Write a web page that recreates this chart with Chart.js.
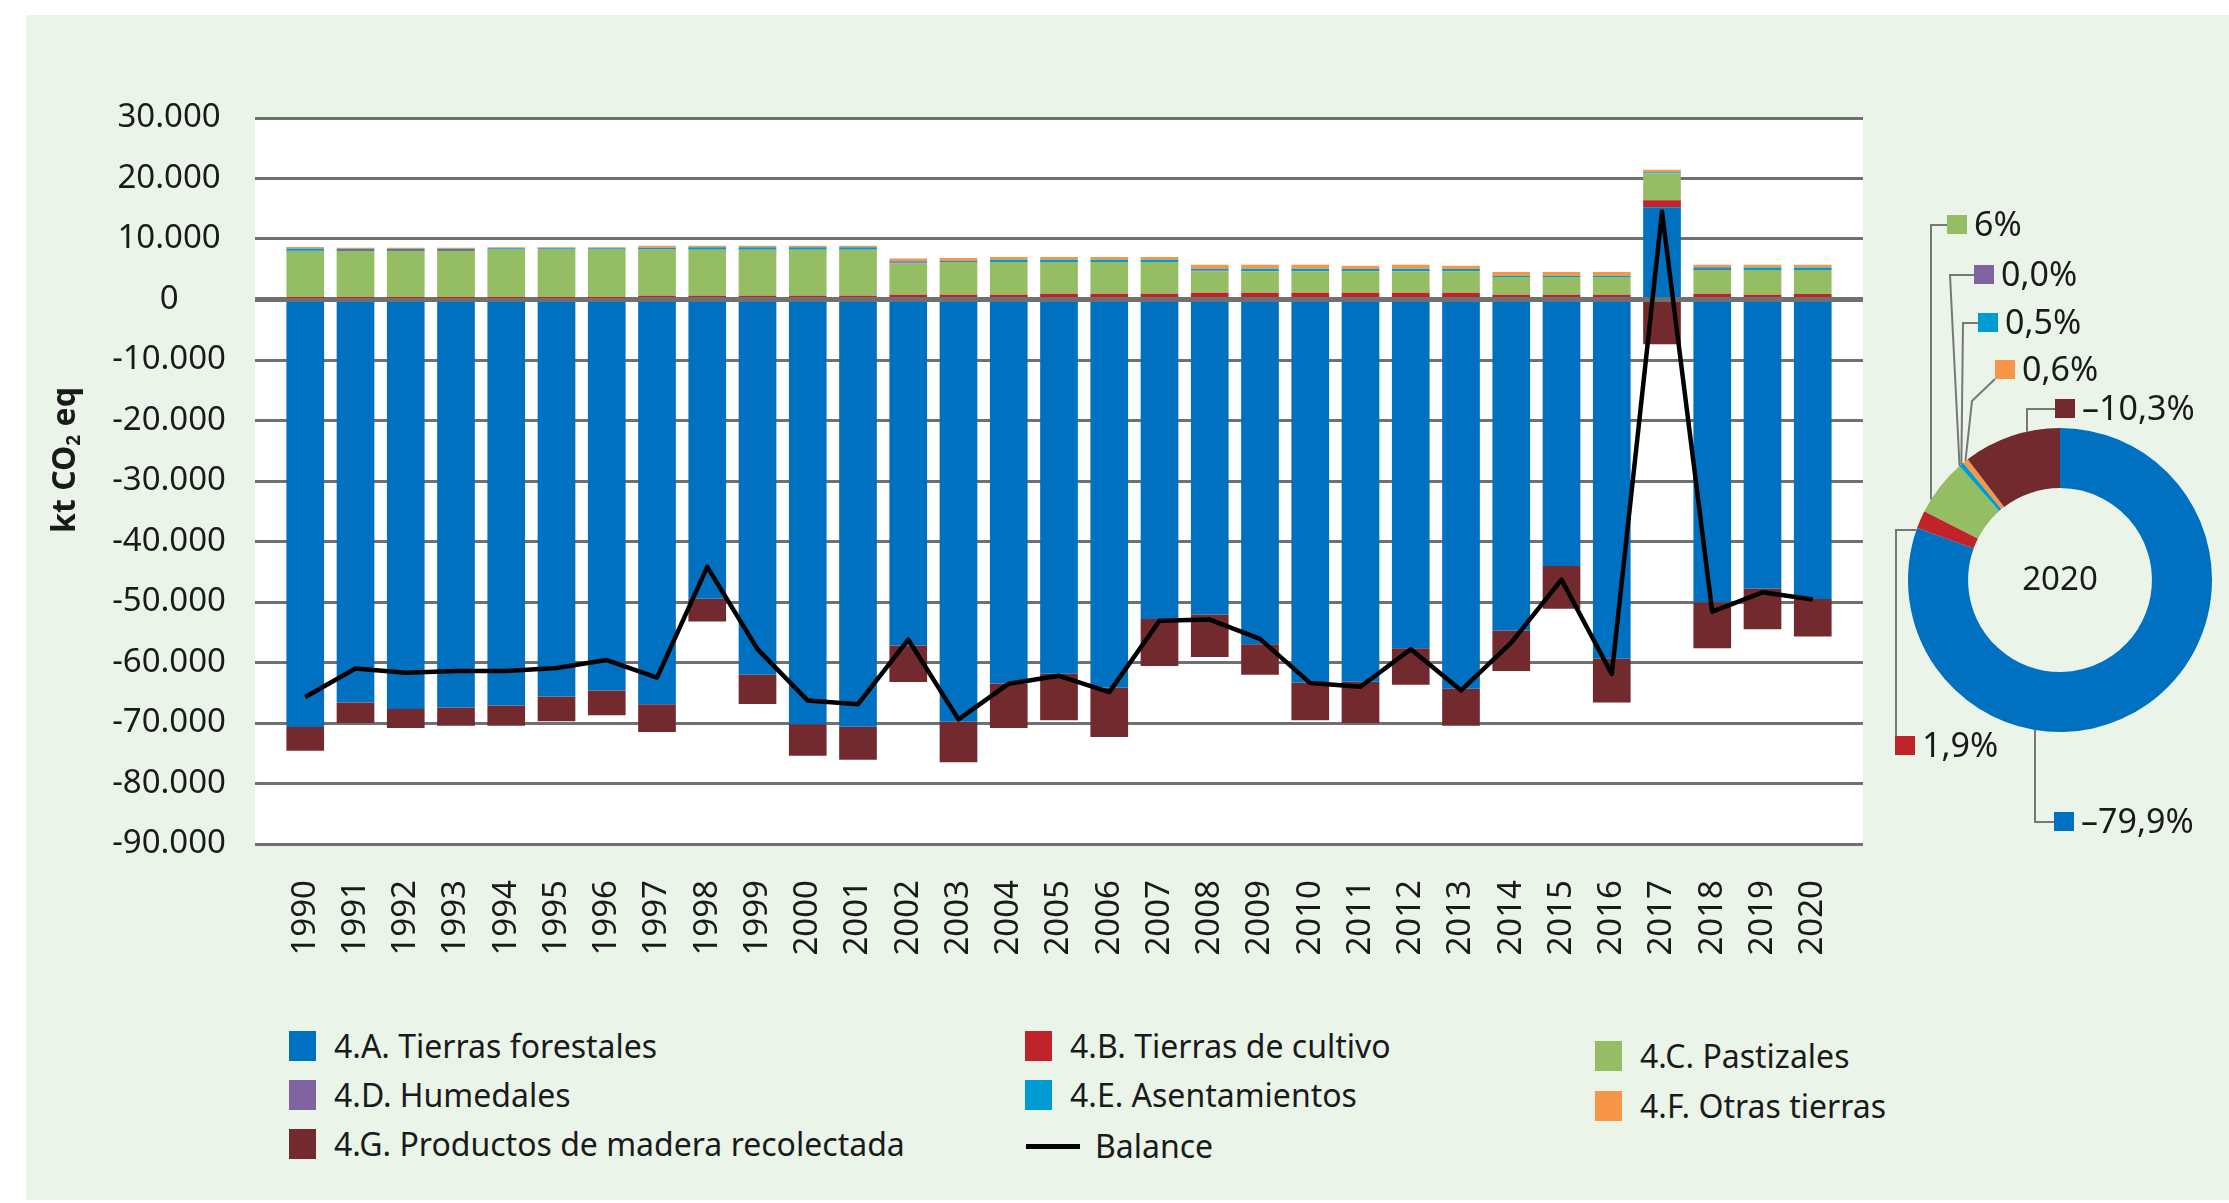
<!DOCTYPE html>
<html lang="es">
<head>
<meta charset="utf-8">
<title>Sector LULUCF 1990-2020</title>
<script src="https://cdn.jsdelivr.net/npm/chart.js@4.4.1/dist/chart.umd.min.js"></script>
<style>
  html, body { margin: 0; padding: 0; background: #fff; }
  body { width: 2229px; height: 1203px; position: relative; overflow: hidden; font-family: "Noto Sans", sans-serif; color: #1a1a1a; }
  #panel { position: absolute; left: 26px; top: 15px; right: 0; bottom: 3px; background: #eaf4e9; }
  #bars { position: absolute; left: 0; top: 0; }
  #share { position: absolute; left: 1870px; top: 150px; }
  .item { position: absolute; display: flex; align-items: center; font-size: 32px; line-height: 1; white-space: nowrap; transform: translateY(-50%); }
  .swatch { width: 27px; height: 30px; margin-right: 18px; }
  .stroke { width: 54px; height: 5px; margin-right: 15px; }
</style>
</head>
<body>
<div id="panel"></div>
<canvas id="bars" width="1900" height="1000"></canvas>
<canvas id="share" width="359" height="720"></canvas>
<div id="legend"></div>
<script>
// kt CO2 eq per year
const years = [1990, 1991, 1992, 1993, 1994, 1995, 1996, 1997, 1998, 1999, 2000, 2001, 2002, 2003, 2004, 2005,
  2006, 2007, 2008, 2009, 2010, 2011, 2012, 2013, 2014, 2015, 2016, 2017, 2018, 2019, 2020];

const forestLand = [-70660, -66620, -67670, -67450, -67120, -65620, -64630, -66900, -49450, -62020, -70220, -70610,
  -57200, -69780, -63460, -61860, -64130, -52830, -52050, -56980, -63300, -63190, -57650, -64350, -54710, -44070,
  -59360, 15230, -50060, -47780, -49500];
const cropland = [200, 200, 200, 200, 200, 200, 200, 600, 600, 600, 600, 600, 770, 770, 770, 940, 940, 940, 1100,
  1100, 1100, 1100, 1100, 1100, 770, 770, 770, 1160, 940, 770, 900];
const grassland = [7800, 7800, 7800, 7800, 8020, 8020, 8020, 7620, 7620, 7620, 7620, 7620, 5190, 5410, 5410, 5240,
  5240, 5240, 3590, 3590, 3590, 3590, 3590, 3590, 2930, 2930, 2930, 4420, 3920, 4090, 3960];
const wetlands = [60, 180, 180, 180, 60, 60, 60, 80, 20, 20, 20, 20, 200, 20, 20, 20, 20, 20, 150, 20, 20, 20, 20,
  20, 20, 20, 20, 20, 200, 20, 20];
const settlements = [380, 160, 160, 160, 200, 200, 200, 250, 400, 400, 400, 400, 170, 170, 390, 390, 390, 390, 250,
  390, 390, 330, 390, 330, 220, 220, 220, 220, 250, 420, 420];
const otherLand = [220, 200, 200, 200, 160, 160, 160, 330, 250, 250, 250, 250, 440, 500, 440, 440, 440, 440, 660,
  660, 660, 550, 660, 550, 600, 600, 600, 390, 440, 440, 440];
const harvestedWood = [-3930, -3380, -3160, -2990, -3320, -4100, -4100, -4600, -3770, -4820, -5210, -5480, -6040,
  -6700, -7370, -7700, -8200, -7750, -7040, -5040, -6260, -6810, -6030, -6090, -6700, -7040, -7260, -7400, -7590,
  -6710, -6210];
const balance = [-65700, -61000, -61700, -61400, -61400, -60900, -59600, -62500, -44200, -57800, -66300, -66900,
  -56200, -69400, -63500, -62200, -64900, -53100, -52900, -56100, -63400, -64000, -57800, -64600, -56700, -46300,
  -61900, 14500, -51600, -48400, -49600];

const seriesNames = ['4.A. Tierras forestales', '4.B. Tierras de cultivo', '4.C. Pastizales', '4.D. Humedales',
  '4.E. Asentamientos', '4.F. Otras tierras', '4.G. Productos de madera recolectada'];
const balanceName = 'Balance';

// 2020 shares (%), same order as seriesNames
const shareYear = '2020';
const shares2020 = [-79.9, 1.9, 6, 0.0, 0.5, 0.6, -10.3];
const shareLabels = ['–79,9%', '1,9%', '6%', '0,0%', '0,5%', '0,6%', '–10,3%'];

const yTicks = { min: -90000, max: 30000, step: 10000 };

const seriesColors = ['#0070c0', '#c0232a', '#95bd63', '#8064a2', '#009bd2', '#f79646', '#722a2f'];
const FONT = '"Noto Sans", sans-serif';
const TEXT = '#1a1a1a';

const seriesData = [forestLand, cropland, grassland, wetlands, settlements, otherLand, harvestedWood];

// empty slot at each end keeps half a step of room inside the plot
const padEnds = (arr) => [null, ...arr, null];
const categories = padEnds(years.map(String)).map((v) => v ?? '');

const fmtThousands = (v) => {
  const s = Math.abs(v).toString().replace(/\B(?=(\d{3})+(?!\d))/g, '.');
  return v < 0 ? '-' + s : s;
};

const plotBackground = {
  id: 'plotBackground',
  beforeDraw(chart) {
    const { ctx, chartArea: a } = chart;
    ctx.save();
    ctx.fillStyle = '#fff';
    ctx.fillRect(a.left, a.top, a.right - a.left, a.bottom - a.top);
    ctx.restore();
  },
};

// rotated axis title with a real subscript
const unitTitle = {
  id: 'unitTitle',
  afterDraw(chart) {
    const { ctx } = chart;
    const big = `bold 32px ${FONT}`;
    const small = `bold 19px ${FONT}`;
    const parts = [['kt CO', big, 0], ['2', small, 9], [' eq', big, 0]];
    ctx.save();
    let total = 0;
    for (const [t, f] of parts) { ctx.font = f; total += ctx.measureText(t).width; }
    ctx.translate(66, 460);
    ctx.rotate(-Math.PI / 2);
    ctx.fillStyle = TEXT;
    ctx.textBaseline = 'middle';
    let x = -total / 2;
    for (const [t, f, dy] of parts) {
      ctx.font = f;
      ctx.fillText(t, x, dy);
      x += ctx.measureText(t).width;
    }
    ctx.restore();
  },
};

const datasets = seriesNames.map((name, i) => ({
  type: 'bar',
  label: name,
  data: padEnds(seriesData[i]),
  backgroundColor: seriesColors[i],
  borderWidth: 0,
  stack: 'lulucf',
  order: 1,
  categoryPercentage: 0.75,
  barPercentage: 1,
}));
datasets.push({
  type: 'line',
  label: balanceName,
  data: padEnds(balance),
  borderColor: '#000',
  backgroundColor: '#000',
  borderWidth: 4.5,
  borderJoinStyle: 'round',
  pointRadius: 0,
  tension: 0,
  stack: 'balance',
  order: 0,
});

const barChart = new Chart(document.getElementById('bars'), {
  type: 'bar',
  data: { labels: categories, datasets },
  options: {
    responsive: false,
    animation: false,
    devicePixelRatio: 1,
    layout: { padding: { left: 0, top: 118, right: 37, bottom: 36 } },
    plugins: { legend: { display: false }, tooltip: { enabled: false } },
    scales: {
      x: {
        type: 'category',
        stacked: true,
        offset: false,
        grid: { display: false, drawTicks: false },
        border: { display: false },
        ticks: {
          autoSkip: false,
          minRotation: 90,
          maxRotation: 90,
          padding: 36,
          color: TEXT,
          font: { family: FONT, size: 33 },
        },
        afterFit(scale) {
          scale.height = 120;
          scale.paddingLeft = 0;
          scale.paddingRight = 0;
        },
      },
      y: {
        stacked: true,
        min: yTicks.min,
        max: yTicks.max,
        border: { display: false },
        grid: {
          drawTicks: false,
          color: '#707070',
          lineWidth: (c) => (c.tick && c.tick.value === 0 ? 5 : 3),
        },
        ticks: {
          stepSize: yTicks.step,
          padding: 29,
          crossAlign: 'center',
          color: TEXT,
          font: { family: FONT, size: 33 },
          callback: (v) => fmtThousands(v),
        },
        afterFit(scale) {
          scale.width = 255;
        },
      },
    },
  },
  plugins: [plotBackground, unitTitle],
});

// legend built from the chart's own datasets
const legendSlots = [[289, 1046], [1025, 1046], [1595, 1056], [289, 1095], [1025, 1095], [1595, 1106], [289, 1144], [1026, 1146]];
const legend = document.getElementById('legend');
barChart.data.datasets.forEach((ds, i) => {
  const item = document.createElement('div');
  item.className = 'item';
  item.style.left = legendSlots[i][0] + 'px';
  item.style.top = legendSlots[i][1] + 'px';
  const mark = document.createElement('span');
  mark.className = ds.type === 'line' ? 'stroke' : 'swatch';
  mark.style.background = ds.type === 'line' ? ds.borderColor : ds.backgroundColor;
  const text = document.createElement('span');
  text.textContent = ds.label;
  item.appendChild(mark);
  item.appendChild(text);
  legend.appendChild(item);
});

// callout geometry for the 2020 ring (canvas px): marker box, bend points, last leg to the ring
const callouts = [
  { box: [184, 672], path: [[184, 672], [165, 672]], leg: 'up' },
  { box: [25, 596], path: [[26, 587], [26, 380]], leg: 'right' },
  { box: [77, 75], path: [[77, 75], [61, 75]], leg: 'down' },
  { box: [104, 125], path: [[104, 125], [80, 125]], leg: 'radial' },
  { box: [108, 173], path: [[108, 173], [93, 173]], leg: 'radial' },
  { box: [125, 220], path: [[125, 229], [102, 251]], leg: 'radial' },
  { box: [185, 259], path: [[185, 259], [157, 259]], leg: 'down' },
];

const ringHit = (arc, p, leg) => {
  const r = arc.outerRadius;
  if (leg === 'up' || leg === 'down') {
    const dx = p[0] - arc.x;
    const dy = Math.sqrt(Math.max(r * r - dx * dx, 0));
    return [p[0], leg === 'down' ? arc.y - dy : arc.y + dy];
  }
  if (leg === 'right') {
    const dy = p[1] - arc.y;
    const dx = Math.sqrt(Math.max(r * r - dy * dy, 0));
    return [arc.x - dx, p[1]];
  }
  const mid = (arc.startAngle + arc.endAngle) / 2;
  return [arc.x + Math.cos(mid) * r, arc.y + Math.sin(mid) * r];
};

const shareCallouts = {
  id: 'shareCallouts',
  afterDraw(chart) {
    const { ctx } = chart;
    const arcs = chart.getDatasetMeta(0).data;
    ctx.save();
    ctx.strokeStyle = '#777';
    ctx.lineWidth = 2;
    arcs.forEach((arc, i) => {
      const c = callouts[i];
      const pts = [...c.path, ringHit(arc, c.path[c.path.length - 1], c.leg)];
      ctx.beginPath();
      ctx.moveTo(pts[0][0], pts[0][1]);
      pts.slice(1).forEach((p) => ctx.lineTo(p[0], p[1]));
      ctx.stroke();
    });
    ctx.font = `34px ${FONT}`;
    ctx.textBaseline = 'middle';
    ctx.fillStyle = TEXT;
    arcs.forEach((arc, i) => {
      const [bx, by] = callouts[i].box;
      ctx.fillStyle = seriesColors[i];
      ctx.fillRect(bx, by - 10, 20, 19);
      ctx.fillStyle = TEXT;
      ctx.fillText(shareLabels[i], bx + 27, by + 1);
    });
    // year in the hole
    const a0 = arcs[0];
    ctx.font = `33px ${FONT}`;
    ctx.textAlign = 'center';
    ctx.fillText(shareYear, a0.x, a0.y + 1);
    ctx.restore();
  },
};

new Chart(document.getElementById('share'), {
  type: 'doughnut',
  data: {
    labels: seriesNames,
    datasets: [{
      data: shares2020.map(Math.abs),
      backgroundColor: seriesColors,
      borderWidth: 0,
    }],
  },
  options: {
    responsive: false,
    animation: false,
    devicePixelRatio: 1,
    cutout: '60.5%',
    layout: { padding: { left: 38, right: 17, top: 278, bottom: 138 } },
    plugins: { legend: { display: false }, tooltip: { enabled: false } },
  },
  plugins: [shareCallouts],
});
</script>
</body>
</html>
